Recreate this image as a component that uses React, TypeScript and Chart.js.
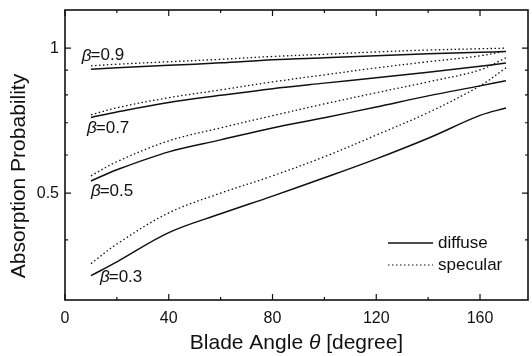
import React, { useEffect, useRef } from "react";
import { Chart, registerables } from "chart.js";

Chart.register(...registerables);

// Blade angle (degrees) sample points
const angles = [10, 20, 40, 60, 80, 100, 120, 140, 160, 170];

// Absorption probability series
const diffuse09 = [0.904, 0.91, 0.921, 0.932, 0.946, 0.955, 0.964, 0.973, 0.98, 0.984];
const specular09 = [0.919, 0.926, 0.937, 0.948, 0.961, 0.971, 0.982, 0.991, 0.997, 1.0];
const diffuse07 = [0.718, 0.737, 0.771, 0.798, 0.824, 0.846, 0.868, 0.891, 0.917, 0.931];
const specular07 = [0.727, 0.752, 0.789, 0.819, 0.851, 0.88, 0.91, 0.937, 0.964, 0.987];
const diffuse05 = [0.53, 0.559, 0.609, 0.645, 0.683, 0.717, 0.755, 0.796, 0.835, 0.856];
const specular05 = [0.543, 0.581, 0.642, 0.683, 0.724, 0.766, 0.808, 0.851, 0.901, 0.955];
const diffuse03 = [0.337, 0.36, 0.414, 0.453, 0.493, 0.538, 0.589, 0.65, 0.725, 0.751];
const specular03 = [0.357, 0.392, 0.455, 0.5, 0.543, 0.595, 0.66, 0.735, 0.835, 0.91];

// Axis ticks
const xMajorTicks = [0, 40, 80, 120, 160];
const xMinorTicks = [20, 60, 100, 140];
const yMajorTicks = [0.5, 1];
const yMinorTicks = [0.4, 0.6, 0.7, 0.8, 0.9];
const yTickLabels = ["0.5", "1"];

// Curve annotations (beta values) and their anchors in data units
const betaValues = ["0.9", "0.7", "0.5", "0.3"];
const betaAnchorX = [6.5, 8.5, 10, 13.5];
const betaAnchorY = [0.964, 0.683, 0.505, 0.334];

const legendLabels = ["diffuse", "specular"];

const FONT = "'Liberation Sans', Arial, Helvetica, sans-serif";
const INK = "#111";

const pts = (xs: number[], ys: number[]) => ys.map((y, i) => ({ x: xs[i], y }));

const decorPlugin = {
  id: "decor",
  afterDraw(chart: any) {
    const { ctx, chartArea, scales } = chart;
    const { left, right, top, bottom } = chartArea;
    const xs = scales.x;
    const ys = scales.y;
    ctx.save();
    ctx.strokeStyle = INK;
    ctx.fillStyle = INK;
    // frame
    ctx.lineWidth = 1.6;
    ctx.strokeRect(left, top, right - left, bottom - top);
    // ticks
    ctx.lineWidth = 1.2;
    const drawX = (v: number, len: number) => {
      const px = xs.getPixelForValue(v);
      ctx.beginPath();
      ctx.moveTo(px, bottom);
      ctx.lineTo(px, bottom - len);
      ctx.moveTo(px, top);
      ctx.lineTo(px, top + len);
      ctx.stroke();
    };
    const drawY = (v: number, len: number) => {
      const py = ys.getPixelForValue(v);
      ctx.beginPath();
      ctx.moveTo(left, py);
      ctx.lineTo(left + len, py);
      ctx.moveTo(right, py);
      ctx.lineTo(right - len, py);
      ctx.stroke();
    };
    xMajorTicks.forEach((v) => drawX(v, 6));
    xMinorTicks.forEach((v) => drawX(v, 3));
    yMajorTicks.forEach((v) => drawY(v, 6));
    yMinorTicks.forEach((v) => drawY(v, 3));

    // axis titles
    ctx.textBaseline = "middle";
    const normal = `21px ${FONT}`;
    const italic = `italic 21px ${FONT}`;
    const parts: [string, string][] = [
      ["Blade Angle ", normal],
      ["\u03b8", italic],
      [" [degree]", normal],
    ];
    let total = 0;
    parts.forEach(([t, f]) => {
      ctx.font = f;
      total += ctx.measureText(t).width;
    });
    let cx = (left + right) / 2 - total / 2;
    ctx.textAlign = "left";
    parts.forEach(([t, f]) => {
      ctx.font = f;
      ctx.fillText(t, cx, 343);
      cx += ctx.measureText(t).width;
    });
    ctx.save();
    ctx.translate(19, 176);
    ctx.rotate(-Math.PI / 2);
    ctx.font = normal;
    ctx.textAlign = "center";
    ctx.fillText("Absorption Probability", 0, 0);
    ctx.restore();

    // beta annotations
    betaValues.forEach((b, i) => {
      const px = xs.getPixelForValue(betaAnchorX[i]);
      const py = ys.getPixelForValue(betaAnchorY[i]);
      ctx.textAlign = "left";
      ctx.font = `italic 17px ${FONT}`;
      ctx.fillText("\u03b2", px, py);
      const w = ctx.measureText("\u03b2").width;
      ctx.font = `17px ${FONT}`;
      ctx.fillText("=" + b, px + w - 1, py);
    });

    // legend
    const ly = [243, 265];
    legendLabels.forEach((lab, i) => {
      ctx.beginPath();
      ctx.lineWidth = i === 0 ? 1.4 : 1.2;
      ctx.setLineDash(i === 0 ? [] : [1.5, 2.5]);
      ctx.moveTo(388, ly[i]);
      ctx.lineTo(433, ly[i]);
      ctx.stroke();
      ctx.setLineDash([]);
      ctx.font = `17px ${FONT}`;
      ctx.textAlign = "left";
      ctx.fillText(lab, 438, ly[i]);
    });
    ctx.restore();
  },
};

export default function App() {
  const ref = useRef<HTMLCanvasElement | null>(null);
  useEffect(() => {
    if (!ref.current) return;
    const solid = { borderColor: INK, borderWidth: 1.5, pointRadius: 0, fill: false, tension: 0.35 };
    const dotted = { ...solid, borderWidth: 1.3, borderDash: [1.5, 2.5] };
    const chart = new Chart(ref.current, {
      type: "line",
      data: {
        datasets: [
          { label: "diffuse β=0.9", data: pts(angles, diffuse09), ...solid },
          { label: "specular β=0.9", data: pts(angles, specular09), ...dotted },
          { label: "diffuse β=0.7", data: pts(angles, diffuse07), ...solid },
          { label: "specular β=0.7", data: pts(angles, specular07), ...dotted },
          { label: "diffuse β=0.5", data: pts(angles, diffuse05), ...solid },
          { label: "specular β=0.5", data: pts(angles, specular05), ...dotted },
          { label: "diffuse β=0.3", data: pts(angles, diffuse03), ...solid },
          { label: "specular β=0.3", data: pts(angles, specular03), ...dotted },
        ] as any,
      },
      options: {
        animation: false,
        responsive: true,
        maintainAspectRatio: false,
        layout: { padding: { top: 10, right: 4, left: 0, bottom: 0 } },
        plugins: { legend: { display: false }, tooltip: { enabled: false } },
        scales: {
          x: {
            type: "linear",
            min: 0,
            max: 178.5,
            grid: { display: false, drawTicks: false },
            border: { display: false },
            afterBuildTicks: (s: any) => {
              s.ticks = xMajorTicks.map((v) => ({ value: v }));
            },
            afterFit: (s: any) => {
              s.height = 56;
              s.paddingLeft = 0;
              s.paddingRight = 0;
            },
            ticks: {
              padding: 9,
              maxRotation: 0,
              color: INK,
              font: { family: FONT, size: 16 },
              callback: (v: any) => String(v),
            },
          },
          y: {
            type: "logarithmic",
            min: 0.3,
            max: 1.2,
            grid: { display: false, drawTicks: false },
            border: { display: false },
            afterBuildTicks: (s: any) => {
              s.ticks = yMajorTicks.map((v) => ({ value: v }));
            },
            afterFit: (s: any) => {
              s.width = 65;
              s.paddingTop = 0;
              s.paddingBottom = 0;
            },
            ticks: {
              padding: 6,
              color: INK,
              font: { family: FONT, size: 16 },
              callback: (v: any) => {
                const i = yMajorTicks.indexOf(Number(v));
                return i >= 0 ? yTickLabels[i] : "";
              },
            },
          },
        },
      },
      plugins: [decorPlugin],
    });
    return () => chart.destroy();
  }, []);
  return (
    <div style={{ position: "absolute", left: 0, top: 0, width: 532, height: 356, background: "#fff" }}>
      <canvas ref={ref} />
    </div>
  );
}
